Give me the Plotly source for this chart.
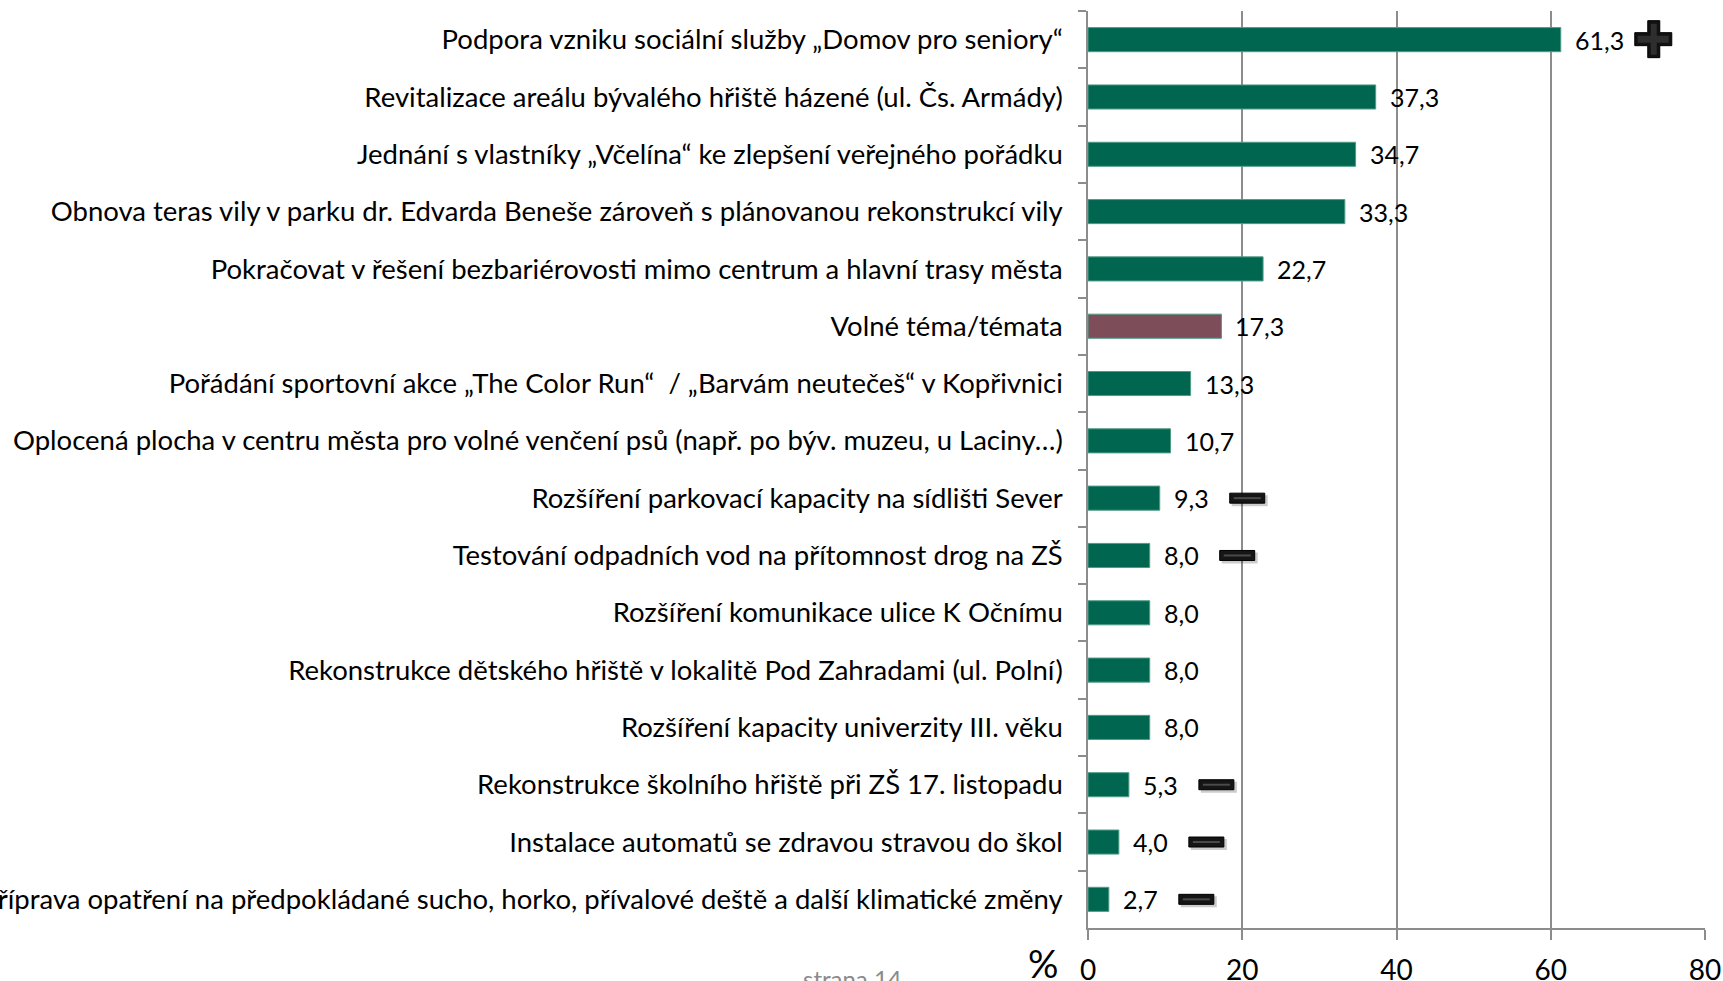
import plotly.graph_objects as go

categories = [
    "Podpora vzniku sociální služby „Domov pro seniory“",
    "Revitalizace areálu bývalého hřiště házené (ul. Čs. Armády)",
    "Jednání s vlastníky „Včelína“ ke zlepšení veřejného pořádku",
    "Obnova teras vily v parku dr. Edvarda Beneše zároveň s plánovanou rekonstrukcí vily",
    "Pokračovat v řešení bezbariérovosti mimo centrum a hlavní trasy města",
    "Volné téma/témata",
    "Pořádání sportovní akce „The Color Run“  / „Barvám neutečeš“ v Kopřivnici",
    "Oplocená plocha v centru města pro volné venčení psů (např. po býv. muzeu, u Laciny…)",
    "Rozšíření parkovací kapacity na sídlišti Sever",
    "Testování odpadních vod na přítomnost drog na ZŠ",
    "Rozšíření komunikace ulice K Očnímu",
    "Rekonstrukce dětského hřiště v lokalitě Pod Zahradami (ul. Polní)",
    "Rozšíření kapacity univerzity III. věku",
    "Rekonstrukce školního hřiště při ZŠ 17. listopadu",
    "Instalace automatů se zdravou stravou do škol",
    "Příprava opatření na předpokládané sucho, horko, přívalové deště a další klimatické změny",
]
values = [61.3, 37.3, 34.7, 33.3, 22.7, 17.3, 13.3, 10.7, 9.3, 8.0, 8.0, 8.0, 8.0, 5.3, 4.0, 2.7]
signs = ["plus", "", "", "", "", "", "", "", "minus", "minus", "", "", "", "minus", "minus", "minus"]
x_ticks = [0, 20, 40, 60, 80]

GREEN = "#006650"
PURPLE = "#7d4e5a"
colors = [PURPLE if c == "Volné téma/témata" else GREEN for c in categories]
FONT = "Lato"
GRID = "#8c8c8c"

fig = go.Figure()
fig.add_trace(go.Bar(
    x=values, y=categories, orientation="h",
    marker=dict(color=colors, line=dict(color="#4f9c86", width=1)),
    width=0.42, hoverinfo="x+y",
))

# value labels
for c, v in zip(categories, values):
    fig.add_annotation(x=v, y=c, xref="x", yref="y", text=f"{v:.1f}".replace(".", ","),
                       showarrow=False, xanchor="left", yanchor="middle", xshift=12,
                       font=dict(family=FONT, size=25, color="#000000"))

# +/- icons
for i, (v, s) in enumerate(zip(values, signs)):
    if s == "minus":
        fig.add_shape(type="rect", xref="x", yref="y", xsizemode="pixel", ysizemode="pixel",
                      xanchor=v, yanchor=i, x0=72, x1=108, y0=-8, y1=3,
                      fillcolor="rgba(0,0,0,0.2)", line=dict(width=0), layer="above")
        fig.add_shape(type="rect", xref="x", yref="y", xsizemode="pixel", ysizemode="pixel",
                      xanchor=v, yanchor=i, x0=70, x1=105, y0=-5, y1=5,
                      fillcolor="#151515", line=dict(color="#000000", width=1), layer="above")
        fig.add_shape(type="line", xref="x", yref="y", xsizemode="pixel", ysizemode="pixel",
                      xanchor=v, yanchor=i, x0=74, x1=101, y0=0, y1=0,
                      line=dict(color="#4a4a4a", width=2), layer="above")
    elif s == "plus":
        fig.add_shape(type="path", xref="x", yref="y", xsizemode="pixel", ysizemode="pixel",
                      xanchor=v, yanchor=i,
                      path="M87,19 L99,19 L99,7 L111,7 L111,-6 L99,-6 L99,-18 L87,-18 L87,-6 L74,-6 L74,7 L87,7 Z",
                      fillcolor="#111111", line=dict(color="#000000", width=1), layer="above")
        fig.add_shape(type="path", xref="x", yref="y", xsizemode="pixel", ysizemode="pixel",
                      xanchor=v, yanchor=i,
                      path="M90,16 L96,16 L96,4 L108,4 L108,-3 L96,-3 L96,-15 L90,-15 L90,-3 L77,-3 L77,4 L90,4 Z",
                      fillcolor="#2e2e2e", line=dict(width=0), layer="above")

fig.add_annotation(xref="paper", yref="paper", x=-0.073, y=-0.038, text="%", showarrow=False,
                   xanchor="center", yanchor="middle", font=dict(family=FONT, size=38, color="#000000"))
fig.add_annotation(xref="paper", yref="paper", x=-0.382, y=-0.0366, text="strana 14", showarrow=False,
                   xanchor="center", yanchor="top", font=dict(family=FONT, size=24, color="#8a8a8a"))

fig.update_layout(
    width=1723, height=981,
    margin=dict(l=1088, r=18, t=11, b=53, autoexpand=False),
    plot_bgcolor="white", paper_bgcolor="white",
    showlegend=False,
    xaxis=dict(range=[0, 80], tickvals=x_ticks, ticktext=[str(t) for t in x_ticks],
               showgrid=True, gridcolor=GRID, gridwidth=1.5,
               ticks="outside", ticklen=10, tickcolor=GRID, tickwidth=1.5,
               showline=True, linecolor=GRID, linewidth=1.5,
               tickfont=dict(family=FONT, size=28, color="#000000"),
               ticklabelstandoff=7, zeroline=False, fixedrange=True, automargin=False),
    yaxis=dict(type="category", categoryorder="array", categoryarray=categories,
               autorange="reversed", tickson="boundaries",
               ticks="outside", ticklen=8, tickcolor=GRID, tickwidth=1.5,
               showline=True, linecolor=GRID, linewidth=1.5, showgrid=False,
               tickfont=dict(family=FONT, size=27.5, color="#000000"),
               ticklabelstandoff=18, fixedrange=True, automargin=False),
)

fig.write_html("out.html", config={"displayModeBar": False},
               post_script="document.body.style.margin='0';")
